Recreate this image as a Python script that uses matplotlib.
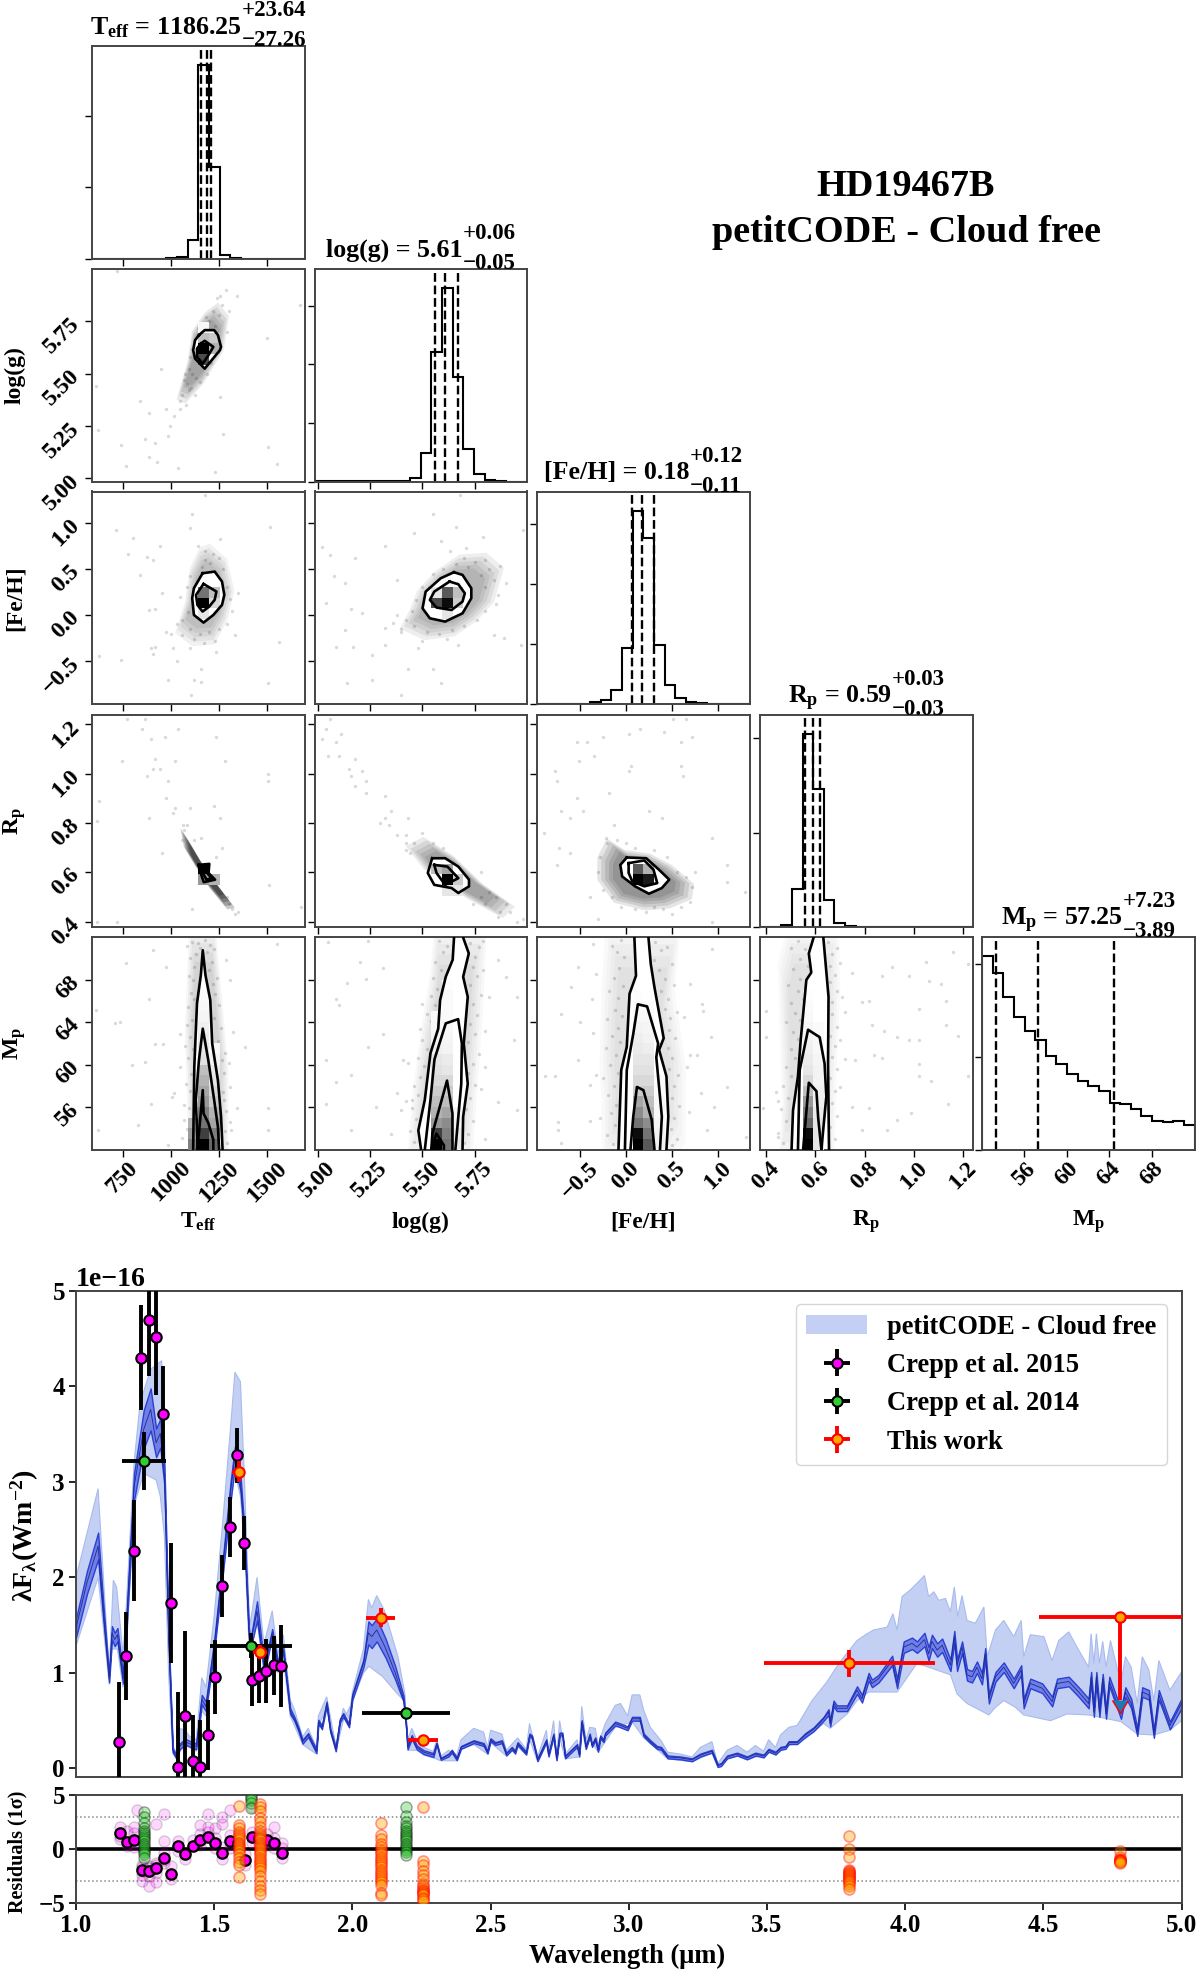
#! /usr/bin/python3
# -*- coding: utf-8 -*-
# Corner plot + spectrum of HD19467B
import numpy as np
import matplotlib
matplotlib.use("Agg")
import matplotlib.pyplot as plt
from matplotlib.patches import Patch

plt.rcParams['font.family'] = ['Liberation Serif', 'DejaVu Serif']
plt.rcParams['font.weight'] = 'bold'
plt.rcParams['mathtext.fontset'] = 'custom'
plt.rcParams['mathtext.rm'] = 'Liberation Serif:bold'
plt.rcParams['mathtext.it'] = 'Liberation Serif:bold'
plt.rcParams['mathtext.bf'] = 'Liberation Serif:bold'
plt.rcParams['mathtext.default'] = 'rm'

W, H = 1200, 1972

# ---------- corner: parameters ----------
param_names = ["T$_{eff}$", "log(g)", "[Fe/H]", "R$_{p}$", "M$_{p}$"]
param_limits = [(590, 1695), (4.985, 6.0), (-0.963, 1.34), (0.376, 1.238), (52.0, 72.05)]
param_ticks = [[750, 1000, 1250, 1500], [5.0, 5.25, 5.5, 5.75], [-0.5, 0.0, 0.5, 1.0],
               [0.4, 0.6, 0.8, 1.0, 1.2], [56, 60, 64, 68]]
param_ticklabels = [["750", "1000", "1250", "1500"], ["5.00", "5.25", "5.50", "5.75"],
                    ["\u22120.5", "0.0", "0.5", "1.0"], ["0.4", "0.6", "0.8", "1.0", "1.2"],
                    ["56", "60", "64", "68"]]
title_main = ["T$_{eff}$ = 1186.25", "log(g) = 5.61", "[Fe/H] = 0.18", "R$_{p}$ = 0.59", "M$_{p}$ = 57.25"]
title_sup = ["+23.64", "+0.06", "+0.12", "+0.03", "+7.23"]
title_sub = ["\u221227.26", "\u22120.05", "\u22120.11", "\u22120.03", "\u22123.89"]
quantiles = [[1158.99, 1186.25, 1209.89], [5.56, 5.61, 5.67], [0.07, 0.18, 0.30],
             [0.56, 0.59, 0.62], [53.36, 57.25, 64.48]]

# histograms, 20 bins each
hist_teff = [0, 0, 0, 0, 0, 0, 0, 0.5, 1, 18, 193, 91, 3, 0.3, 0, 0, 0, 0, 0, 0]
hist_logg = [0.5, 0.5, 0.7, 0.5, 0.5, 0.5, 0.5, 0.6, 1, 3.7, 28.7, 130, 193.7, 105, 32.7, 8, 2, 0.5, 0, 0]
hist_feh = [0, 0, 0, 0, 0.3, 1.7, 4, 14, 56, 193.7, 166.4, 59.6, 19, 5.7, 1.7, 0.7, 0.2, 0, 0, 0]
hist_rp = [0.2, 0.5, 3, 39, 193.3, 139, 28, 5, 2, 1, 0.7, 0.5, 0.5, 0.4, 0.3, 0.3, 0.2, 0.2, 0.2, 0.2]
hist_mp = [192.8, 176.3, 152, 132, 118, 109, 93.7, 85, 75.6, 68.7, 63, 58.4, 46.8, 45.7, 40.7,
           33.4, 28.4, 27.6, 28.4, 24.6]
hists = [hist_teff, hist_logg, hist_feh, hist_rp, hist_mp]
hist_ticks = [[0, 71, 142], [0, 58.8, 117.6, 176.4], [0, 60, 120, 180], [0, 95, 190], [0, 92.5, 185]]

# ---------- corner: 2D panels, (column, first row, darkness per row) ----------
dens_logg_teff = [(10, 11, [.7, 1.0, .25, .03]), (11, 12, [.3, .2])]
dens_feh_teff = [(10, 8, [.1, 1.0, .55]), (11, 9, [.15, .25])]
dens_feh_logg = [(11, 9, [.7, .1]), (12, 8, [.1, .95, .65, .02]), (13, 9, [.2, .25])]
dens_rp_teff = [(10, 4, [.4, 1.0]), (11, 4, [.3])]
dens_rp_logg = [(11, 5, [.25]), (12, 3, [.1, 1.0, .35]), (13, 3, [.1, .2])]
dens_rp_feh = [(9, 4, [1.0, .65]), (10, 4, [.9, .3])]
dens_mp_teff = [(9, 0, [.5, .4, .3]),
                (10, 0, [1.0, .75, .55, .5, .4, .35, .3, .25, .12, .1, .08, .06, .04, .03, .02]),
                (11, 0, [.6, .5, .35, .3, .2, .15, .1, .08, .05, .03])]
dens_mp_logg = [(11, 0, [1.0, .75, .4, .3, .25, .2, .15, .12, .1, .06, .04, .03, .02]),
                (12, 0, [.55, .5, .45, .35, .25, .2, .15, .1, .08, .05, .04, .03, .02, .02, .02, .01]),
                (13, 0, [.1, .08, .05, .04])]
dens_mp_feh = [(9, 0, [1.0, .95, .55, .45, .35, .2, .15, .12, .1, .08, .07, .05, .03, .02, .01]),
               (10, 0, [.65, .55, .45, .3, .25, .2, .15, .12, .1, .07, .05, .04, .03, .02]),
               (11, 0, [.05, .05, .04, .03, .03, .02, .02])]
dens_mp_rp = [(4, 0, [1.0, .95, .6, .5, .4, .25, .15, .1, .08, .06, .05, .04, .03, .02, .01]),
              (5, 0, [.1, .1, .1, .08, .06, .06, .05, .05, .04, .03, .03, .02])]

# contour lines, outer first
cont_logg_teff = [[(1146, 5.684), (1176, 5.708), (1225, 5.708), (1245, 5.684), (1261, 5.628), (1255, 5.612),
                   (1176, 5.524), (1126, 5.572), (1116, 5.612), (1126, 5.66), (1146, 5.684)],
                  [(1156, 5.644), (1176, 5.657), (1221, 5.628), (1195, 5.588), (1166, 5.548), (1136, 5.58),
                   (1136, 5.62), (1156, 5.644)]]
cont_feh_teff = [[(1165, .454), (1228, .472), (1266, .364), (1278, .219), (1266, .111), (1221, .002),
                  (1170, -.081), (1120, .002), (1111, .183), (1120, .292), (1165, .454)],
                 [(1170, .338), (1237, .256), (1228, .166), (1199, .092), (1165, .039), (1138, .111),
                  (1131, .219), (1170, .338)]]
cont_feh_logg = [[(5.651, .465), (5.692, .436), (5.734, .291), (5.734, .183), (5.692, .02), (5.609, -.07),
                  (5.536, -.034), (5.501, .074), (5.516, .255), (5.588, .40), (5.651, .465)],
                 [(5.63, .364), (5.672, .335), (5.703, .237), (5.692, .147), (5.64, .056), (5.568, .082),
                  (5.536, .165), (5.557, .255), (5.63, .364)]]
cont_rp_teff = [[(1144, .630), (1200, .634), (1196, .597), (1230, .57), (1171, .56), (1155, .597), (1144, .63)],
                [(1162, .621), (1189, .623), (1189, .597), (1212, .576), (1185, .57), (1167, .597), (1162, .621)]]
cont_rp_logg = [[(5.547, .657), (5.609, .657), (5.672, .623), (5.723, .57), (5.723, .543), (5.672, .516),
                 (5.64, .536), (5.557, .549), (5.526, .597), (5.547, .657)],
                [(5.557, .63), (5.62, .623), (5.672, .576), (5.609, .549), (5.568, .597), (5.557, .63)]]
cont_rp_feh = [[(.01, .66), (.22, .657), (.36, .61), (.47, .57), (.39, .536), (.25, .513), (.10, .543),
                (-.04, .583), (-.06, .63), (.01, .66)],
               [(.03, .637), (.2, .648), (.30, .61), (.34, .556), (.2, .543), (.07, .563), (.03, .597), (.03, .637)]]
cont_mp_teff = [[(1116, 52), (1122, 59.8), (1136, 65.8), (1156, 68.45), (1166, 70.8), (1180, 68.45),
                 (1205, 66.1), (1215, 62), (1245, 58.5), (1261, 55.1), (1269, 52)],
                [(1140, 52), (1130, 56.7), (1146, 60.4), (1166, 63.4), (1195, 60.4), (1225, 56.7), (1245, 54.1),
                 (1251, 52)],
                [(1136, 52), (1146, 53.5), (1166, 57.6), (1170, 55.4), (1195, 54.5), (1221, 52.9), (1221, 52)]]
cont_mp_logg = [[(5.494, 52), (5.481, 53.8), (5.512, 56.7), (5.539, 61.1), (5.576, 63.4), (5.585, 66.1),
                 (5.612, 68.3), (5.645, 69.9), (5.653, 72.5), (5.686, 72.5), (5.722, 70.5), (5.695, 68.3),
                 (5.717, 66.4), (5.698, 62), (5.717, 58.2), (5.695, 55.1), (5.692, 52)],
                [(5.512, 52), (5.539, 56.7), (5.558, 60.5), (5.612, 63.9), (5.671, 64.3), (5.689, 62),
                 (5.686, 58.2), (5.658, 52)],
                [(5.543, 52), (5.548, 53.5), (5.618, 58.5), (5.644, 55.4), (5.644, 52)],
                [(5.543, 52), (5.567, 53.5), (5.603, 52.4), (5.603, 52)]]
cont_mp_feh = [[(-.08, 52), (-.06, 57), (-.05, 59.5), (.01, 61.7), (.04, 66.7), (.11, 68.4), (.09, 72.5),
                (.24, 72.5), (.27, 69.5), (.31, 67.3), (.41, 62.5), (.36, 61.4), (.44, 58.9), (.46, 55.1), (.44, 52)],
               [(-.01, 52), (.01, 59.5), (.08, 62.9), (.13, 65.7), (.23, 65.5), (.35, 62), (.33, 60.7),
                (.39, 55.1), (.37, 52)],
               [(.05, 52), (.08, 55.1), (.12, 57.9), (.19, 57.6), (.28, 54.8), (.31, 52)]]
cont_mp_rp = [[(.504, 52), (.51, 55.7), (.53, 58.9), (.541, 62.3), (.564, 68), (.584, 68.7), (.574, 70.5),
               (.6, 72.5), (.631, 72.5), (.654, 66.4), (.652, 60.1), (.656, 52)],
              [(.53, 52), (.537, 59.5), (.571, 63.3), (.618, 62.6), (.638, 60.1), (.645, 57), (.625, 52)],
              [(.551, 52), (.574, 58.3), (.605, 57.5), (.612, 55), (.625, 52)]]

# clouds of samples around the contours
halo_logg_teff = [(1235, 5.811), (1285, 5.755), (1261, 5.612), (1166, 5.468), (1086, 5.388), (1046, 5.404),
                  (1096, 5.564), (1116, 5.691), (1176, 5.771)]
halo_feh_teff = [(1199, .707), (1278, .562), (1312, .256), (1278, -.034), (1221, -.251), (1120, -.27),
                 (1041, -.143), (1086, .147), (1108, .472), (1154, .672)]
halo_feh_logg = [(5.672, .599), (5.786, .617), (5.859, .472), (5.817, .147), (5.744, -.034), (5.651, -.179),
                 (5.526, -.215), (5.422, -.106), (5.464, .074), (5.495, .255), (5.568, .436)]
halo_rp_teff = [(1065, .758), (1099, .718), (1155, .644), (1234, .556), (1313, .475), (1279, .469),
                (1200, .543), (1133, .623), (1081, .691)]
halo_rp_logg = [(5.453, .691), (5.526, .724), (5.651, .657), (5.775, .556), (5.91, .475), (5.859, .435),
                (5.713, .502), (5.526, .61)]
halo_rp_feh = [(-.16, .718), (.01, .677), (.25, .664), (.46, .623), (.67, .556), (.65, .502), (.44, .469),
               (.2, .462), (-.09, .489), (-.25, .57), (-.25, .65)]
halo_mp_teff = [(1106, 72), (1225, 72), (1255, 66.1), (1285, 59.8), (1285, 52), (1106, 52), (1086, 62.9), (1096, 67.7)]
halo_mp_logg = [(5.567, 72), (5.786, 72), (5.768, 64.5), (5.74, 56.7), (5.722, 52), (5.448, 52), (5.475, 58.2),
                (5.512, 63.6), (5.548, 68)]
halo_mp_feh = [(-.17, 72), (.55, 72), (.48, 66.4), (.59, 60.1), (.59, 53.8), (.48, 52), (-.21, 52), (-.21, 57),
               (-.23, 60.1), (-.21, 66.4)]
halo_mp_rp = [(.497, 72), (.679, 72), (.685, 66.4), (.672, 60.1), (.665, 52), (.463, 52), (.477, 57), (.47, 62.3),
              (.463, 68.7)]

stray_logg_teff = [(718, 5.99), (609, 5.44), (619, 5.23), (742, 5.16), (947, 5.52), (838, 5.37), (887, 5.31),
                   (977, 5.33), (1046, 5.37), (997, 5.25), (867, 5.19), (917, 5.17), (887, 5.10), (987, 5.2),
                   (768, 5.06), (927, 5.08), (1036, 5.05), (1231, 5.03), (1255, 5.39), (1271, 5.21), (1498, 5.67),
                   (1504, 5.15), (1553, 5.07), (1673, 5.83), (1285, 5.90), (1345, 5.87), (1255, 5.87), (1096, 5.42),
                   (1066, 5.47), (1016, 5.30), (1240, 5.86), (1265, 5.83), (1220, 5.80), (1250, 5.78), (1200, 5.75),
                   (1230, 5.73), (1185, 5.77), (1160, 5.74), (1140, 5.72), (1110, 5.62), (1100, 5.58), (1095, 5.52),
                   (1110, 5.5), (1130, 5.48), (1075, 5.5), (1085, 5.45), (1105, 5.43), (1060, 5.4), (1125, 5.4),
                   (1080, 5.35), (1050, 5.33), (1150, 5.46), (1190, 5.5), (1210, 5.55), (1290, 5.7), (1300, 5.8)]
stray_feh_teff = [(716, .92), (802, .84), (941, .75), (775, .66), (878, .63), (908, .6), (1110, 1.1), (1099, .94),
                  (1516, .95), (840, .44), (953, .24), (885, .06), (919, .07), (975, -.18), (896, -.36), (919, -.34),
                  (626, -.44), (743, -.49), (1031, -.5), (908, -.42), (1155, -.58), (986, -.7), (1122, -.7),
                  (1155, -.72), (1504, -.74), (1106, -.87), (1561, -.29), (1347, .24), (1336, -.22), (1178, 1.3),
                  (1257, .83), (1009, -.36), (1099, -.36), (1234, -.4), (1140, .75), (1180, .7), (1220, .66),
                  (1250, .62), (1175, .6), (1205, .56), (1160, .52), (1270, .5), (1100, .42), (1085, .3), (1050, .2),
                  (1290, .3), (1310, .18), (1320, .05), (1090, .03), (1060, -.05), (1030, -.1), (1100, -.15),
                  (1150, -.2), (1200, -.18), (1250, -.15), (1120, -.26), (1060, -.22), (1170, -.3), (1230, -.28),
                  (1000, -.2), (1290, -.1)]
stray_feh_logg = [(5.02, .74), (5.06, .65), (5.18, .62), (5.32, .75), (5.38, .38), (5.13, .35), (5.08, .42),
                  (5.04, .13), (5.16, .07), (5.21, .02), (5.13, -.16), (5.09, -.34), (5.17, -.34), (5.32, -.32),
                  (5.26, -.43), (5.14, -.74), (5.26, -.7), (5.4, -.87), (5.43, -.58), (5.59, -.73), (5.55, -.58),
                  (5.67, -.32), (5.84, -.21), (5.97, -.32), (5.89, -.25), (5.86, .22), (5.87, .53), (5.79, .85),
                  (5.66, .96), (5.55, 1.10), (5.46, .89), (5.98, .92), (5.68, 1.30), (5.32, -.14), (5.4, -.18),
                  (5.48, -.36), (5.59, .8), (5.63, .69), (5.71, .73), (5.38, 0.0), (5.7, .62), (5.75, .58), (5.8, .6),
                  (5.66, .55), (5.72, .52), (5.82, .5), (5.78, .44), (5.84, .38), (5.8, .3), (5.85, .12), (5.8, .05),
                  (5.76, -.05), (5.7, -.12), (5.64, -.16), (5.58, -.2), (5.52, -.18), (5.46, -.12), (5.42, -.05),
                  (5.45, .05), (5.47, .16), (5.5, .3), (5.55, .45), (5.6, .5), (5.4, -.15), (5.36, -.08), (5.9, .35),
                  (5.62, -.26), (5.5, -.28)]
stray_rp_teff = [(772, 1.22), (863, 1.22), (851, 1.18), (896, 1.14), (968, 1.15), (1038, 1.18), (1234, 1.15),
                 (746, 1.05), (919, 1.06), (1020, 1.05), (1279, 1.05), (908, 1.02), (941, 1.02), (874, .99),
                 (986, .97), (1504, 1.0), (1504, .97), (626, .89), (975, .90), (1223, .87), (615, .81), (885, .82),
                 (1020, .86), (1009, .84), (1099, .86), (1257, .82), (1065, .79), (1155, .74), (953, .68),
                 (1234, .66), (1268, .70), (1511, .55), (1110, .45), (1347, .44), (1678, .46), (615, .40), (721, .40),
                 (1070, .77), (1085, .79), (1120, .73), (1300, .47), (1320, .45), (1335, .43), (1290, .5), (1060, .73)]
stray_rp_logg = [(5.04, 1.18), (5.11, 1.16), (5.02, 1.14), (5.09, 1.13), (5.06, 1.22), (5.05, 1.07), (5.10, 1.07),
                 (5.18, 1.06), (5.15, 1.02), (5.21, 1.01), (5.16, .99), (5.18, .95), (5.23, .97), (5.23, .92),
                 (5.32, .91), (5.35, .85), (5.32, .82), (5.34, .79), (5.38, .75), (5.42, .75), (5.43, .82),
                 (5.3, .80), (5.42, .72), (5.98, .41), (5.95, .4), (5.87, .44), (5.46, .72), (5.5, .76), (5.44, .68),
                 (5.42, .69), (5.55, .72), (5.6, .7), (5.78, .6), (5.82, .52), (5.85, .5), (5.9, .47), (5.78, .5),
                 (5.92, .44), (5.74, .47), (5.8, .47), (5.86, .42)]
stray_rp_feh = [(-.53, 1.13), (-.42, 1.13), (-.25, 1.15), (.03, 1.16), (.15, 1.18), (.41, 1.17), (.6, 1.13),
                (.72, 1.15), (.51, 1.22), (.65, 1.22), (-.51, 1.05), (-.35, 1.07), (.06, 1.03), (.03, 1.01),
                (-.77, 1.01), (-.75, .97), (.62, .99), (.6, 1.03), (-.18, .92), (-.53, .9), (-.46, .85), (.39, .82),
                (-.7, .85), (-.6, .82), (-.89, .76), (-.13, .79), (.25, .85), (-.72, .7), (-.6, .68), (-.75, .63),
                (1.1, .63), (.93, .74), (1.1, .56), (1.29, .52), (.93, .4), (-.3, .41), (.22, .44), (-.39, .5),
                (-.2, .72), (-.1, .73), (0, .72), (.1, .7), (.3, .69), (.45, .66), (.55, .6), (.65, .58), (.72, .54),
                (.7, .48), (.6, .46), (.5, .43), (.3, .46), (.1, .45), (-.05, .46), (-.15, .5), (-.25, .53),
                (-.3, .6), (-.28, .66), (-.22, .74), (.75, .6), (.4, .45)]
stray_mp_teff = [(768, 69.6), (907, 70.8), (977, 69.2), (887, 66.2), (957, 62), (868, 60.3), (798, 60), (609, 65.2),
                 (708, 63.9), (738, 64), (917, 62), (1007, 57), (897, 56.3), (619, 53.8), (828, 54.3), (987, 52.4),
                 (1344, 55.9), (1504, 55.9), (1504, 53.8), (1553, 71.4), (1384, 61.7), (1325, 63.1), (1305, 68),
                 (1285, 69.9), (1046, 59.8), (1017, 57.3), (1066, 54.8), (1046, 62.9), (1315, 53.8), (1305, 57.9),
                 (1275, 56.7), (1085, 71.2), (1100, 70.1), (1112, 71.6), (1120, 69.2), (1095, 68.4), (1130, 70.4),
                 (1140, 71.5), (1205, 71.3), (1190, 70.6), (1215, 69.7), (1225, 70.9), (1240, 68.2), (1200, 68.9),
                 (1178, 71.8), (1150, 71.0), (1105, 66.8), (1120, 66.2), (1090, 65.4), (1110, 64.2), (1098, 62.6),
                 (1115, 61.5), (1085, 63.7), (1232, 66.7), (1250, 65.6), (1225, 64.4), (1260, 63.5), (1245, 62.2),
                 (1280, 61.1), (1238, 60.9), (1090, 60.6), (1105, 59.1), (1080, 58.2), (1100, 57.5), (1095, 55.9),
                 (1108, 54.7), (1085, 53.9), (1098, 52.8), (1275, 59.2), (1270, 57.4), (1285, 55.6), (1280, 53.7),
                 (1290, 52.6), (1265, 60.4), (1075, 61.8), (1068, 56.2), (1300, 60.2), (1310, 54.6), (1060, 53.1),
                 (1220, 67.6), (1115, 68.0)]
stray_mp_logg = [(5.05, 71.6), (5.2, 69.7), (5.31, 69.1), (5.23, 68.1), (5.14, 67.7), (5.09, 66.2), (5.1, 65.6),
                 (5.04, 60.4), (5.04, 56.3), (5.09, 58.4), (5.16, 59), (5.16, 53.8), (5.24, 61.7), (5.31, 62.9),
                 (5.41, 60.4), (5.38, 57.3), (5.45, 56.7), (5.4, 55.7), (5.28, 56), (5.35, 53.5), (5.8, 53),
                 (5.86, 56.5), (5.95, 55.7), (5.9, 68.3), (5.86, 69.9), (5.94, 62.3), (5.8, 59.8), (5.82, 66.4),
                 (5.79, 71.7), (5.49, 63.4), (5.24, 71.7), (5.95, 66.4), (5.58, 71.7), (5.6, 70.6), (5.62, 71.2),
                 (5.56, 69.7), (5.59, 68.9), (5.55, 68.2), (5.57, 67.1), (5.54, 66.5), (5.56, 65.6), (5.52, 64.8),
                 (5.54, 64.1), (5.55, 63.0), (5.5, 62.3), (5.52, 61.5), (5.48, 60.6), (5.51, 59.9), (5.49, 58.8),
                 (5.46, 58.0), (5.48, 57.1), (5.45, 55.9), (5.47, 54.9), (5.44, 53.7), (5.46, 52.7), (5.42, 56.6),
                 (5.43, 60.2), (5.5, 65.7), (5.73, 71.5), (5.75, 70.2), (5.77, 71.1), (5.74, 69.2), (5.76, 68.4),
                 (5.73, 67.5), (5.78, 66.6), (5.74, 65.7), (5.76, 64.7), (5.73, 63.8), (5.75, 62.9), (5.72, 62.1),
                 (5.77, 61), (5.74, 60.1), (5.72, 59.2), (5.75, 58.1), (5.73, 56.9), (5.71, 55.8), (5.74, 54.7),
                 (5.72, 53.5), (5.7, 52.6), (5.79, 68.9), (5.8, 63.2), (5.78, 57.7)]
stray_mp_feh = [(-.52, 69.2), (-.59, 67.3), (-.36, 71.4), (-.37, 66.2), (-.7, 64.8), (-.5, 64), (-.32, 68.6),
                (-.36, 63), (-.77, 58.9), (-.88, 58.9), (-.52, 60.4), (-.32, 59), (-.39, 58.1), (-.74, 54.6),
                (-.39, 54.7), (-.74, 53.8), (-.7, 52.6), (.84, 65.1), (.93, 70.9), (.92, 62.6), (.83, 65.7),
                (.7, 60.9), (.77, 60.9), (.66, 59.8), (.81, 57.3), (1.1, 57.9), (.95, 56), (.68, 55.5), (.88, 53.8),
                (.63, 64.5), (.7, 67.6), (1.3, 53.2), (-.05, 71.8), (-.1, 70.6), (-.02, 70.2), (-.15, 71.2),
                (-.07, 69.1), (-.13, 68.2), (-.03, 67.4), (-.18, 67), (-.08, 66.3), (-.12, 65.2), (-.04, 64.6),
                (-.2, 64.3), (-.09, 63.5), (-.15, 62.7), (-.06, 62.1), (-.22, 61.6), (-.11, 60.9), (-.17, 60),
                (-.09, 59.2), (-.25, 58.7), (-.13, 58), (-.19, 57.1), (-.11, 56.2), (-.16, 55.4), (-.28, 55),
                (-.12, 54.3), (-.2, 53.4), (-.14, 52.5), (.32, 71.6), (.38, 70.8), (.3, 69.9), (.45, 71.1),
                (.36, 68.9), (.42, 68.1), (.5, 69.5), (.38, 67), (.46, 66.2), (.52, 67.5), (.42, 65.3), (.48, 64.4),
                (.55, 65), (.47, 63.3), (.53, 62.5), (.46, 61.6), (.5, 60.6), (.47, 59.6), (.56, 59), (.52, 58),
                (.5, 56.9), (.58, 56.1), (.52, 55), (.49, 53.9), (.55, 53), (.5, 52.4)]
stray_mp_rp = [(.75, 68.7), (.87, 68.4), (.91, 69.2), (.98, 68.4), (1.05, 69.7), (1.06, 67.9), (1.11, 67.6),
               (1.22, 69.5), (1.16, 70.6), (.82, 66), (.79, 65.9), (1.13, 66), (1.02, 65.3), (.83, 63.7), (.88, 63.2),
               (.93, 62.6), (.98, 62.3), (1.02, 62.3), (1.13, 63.7), (1.18, 62.7), (.76, 60.4), (.84, 60.9),
               (.87, 60.6), (1.02, 60.1), (1.02, 58.9), (1.07, 58.5), (1.22, 58.9), (.75, 56), (.82, 55.9),
               (.93, 54.8), (.99, 55.4), (1.14, 56.3), (.89, 53.8), (.79, 53.8), (.45, 56.6), (.39, 55.9), (.4, 65.1),
               (.4, 62.6), (.45, 53.2), (.53, 71.7), (.56, 70.9), (.5, 71), (.54, 70), (.57, 69.3), (.51, 69),
               (.54, 68.1), (.49, 67.5), (.53, 67), (.55, 66.2), (.5, 65.8), (.52, 64.9), (.54, 64.2), (.48, 64),
               (.51, 63.1), (.53, 62.4), (.5, 61.5), (.52, 60.6), (.48, 59.8), (.5, 58.9), (.47, 58), (.49, 56.9),
               (.46, 55.8), (.48, 54.7), (.45, 53.6), (.47, 52.6), (.44, 57.4), (.65, 71.6), (.67, 70.4), (.69, 71),
               (.66, 69.3), (.68, 68.5), (.7, 69.6), (.66, 67.8), (.69, 67), (.67, 65.9), (.71, 66.4), (.67, 64.8),
               (.69, 63.6), (.66, 62.7), (.68, 61.8), (.7, 62.3), (.67, 60.7), (.69, 59.6), (.66, 58.7), (.68, 57.5),
               (.67, 56.4), (.69, 55.2), (.66, 54.1), (.68, 53), (.7, 57.9), (.72, 60.5), (.72, 65)]

# (row, col): density, contours, halo, strays, halo opacity
panels = {(1, 0): (dens_logg_teff, cont_logg_teff, halo_logg_teff, stray_logg_teff, .2),
          (2, 0): (dens_feh_teff, cont_feh_teff, halo_feh_teff, stray_feh_teff, .13),
          (2, 1): (dens_feh_logg, cont_feh_logg, halo_feh_logg, stray_feh_logg, .16),
          (3, 0): (dens_rp_teff, cont_rp_teff, halo_rp_teff, stray_rp_teff, .5),
          (3, 1): (dens_rp_logg, cont_rp_logg, halo_rp_logg, stray_rp_logg, .2),
          (3, 2): (dens_rp_feh, cont_rp_feh, halo_rp_feh, stray_rp_feh, .24),
          (4, 0): (dens_mp_teff, cont_mp_teff, halo_mp_teff, stray_mp_teff, .08),
          (4, 1): (dens_mp_logg, cont_mp_logg, halo_mp_logg, stray_mp_logg, .07),
          (4, 2): (dens_mp_feh, cont_mp_feh, halo_mp_feh, stray_mp_feh, .06),
          (4, 3): (dens_mp_rp, cont_mp_rp, halo_mp_rp, stray_mp_rp, .06)}

# ---------- spectrum (1e-16 W m-2) ----------
model_wl = [1.00, 1.04, 1.08, 1.10, 1.12, 1.13, 1.14, 1.15, 1.17, 1.18,
            1.21, 1.245, 1.27, 1.29, 1.305, 1.32, 1.335, 1.35, 1.365, 1.375,
            1.395, 1.41, 1.435, 1.455, 1.47, 1.50, 1.53, 1.56, 1.575, 1.595,
            1.61, 1.625, 1.63, 1.655, 1.68, 1.69, 1.71, 1.73, 1.75, 1.775,
            1.79, 1.805, 1.82, 1.84, 1.87, 1.877, 1.89, 1.907, 1.92, 1.94,
            1.955, 1.967, 1.988, 2.0, 2.04, 2.058, 2.07, 2.088, 2.12, 2.155,
            2.185, 2.195, 2.2, 2.215, 2.233, 2.258, 2.293, 2.305, 2.32, 2.348,
            2.36, 2.378, 2.393, 2.439, 2.475, 2.489, 2.5, 2.517, 2.541, 2.557,
            2.577, 2.589, 2.598, 2.629, 2.641, 2.65, 2.67, 2.702, 2.71, 2.728,
            2.739, 2.75, 2.76, 2.77, 2.813, 2.821, 2.83, 2.845, 2.859, 2.867,
            2.879, 2.889, 2.897, 2.909, 2.915, 2.951, 2.97, 2.996, 3.012, 3.04,
            3.054, 3.078, 3.102, 3.117, 3.141, 3.187, 3.229, 3.259, 3.301, 3.322,
            3.334, 3.356, 3.392, 3.428, 3.458, 3.488, 3.506, 3.531, 3.549, 3.567,
            3.579, 3.609, 3.639, 3.669, 3.705, 3.723, 3.729, 3.741, 3.753, 3.79,
            3.826, 3.844, 3.868, 3.88, 3.904, 3.953, 3.971, 3.995, 4.025, 4.043,
            4.07, 4.085, 4.097, 4.116, 4.134, 4.164, 4.178, 4.188, 4.206, 4.224,
            4.242, 4.26, 4.278, 4.29, 4.303, 4.327, 4.357, 4.393, 4.42, 4.429,
            4.453, 4.496, 4.532, 4.55, 4.592, 4.628, 4.664, 4.673, 4.683, 4.692,
            4.703, 4.715, 4.727, 4.739, 4.781, 4.797, 4.818, 4.84, 4.858, 4.882,
            4.9, 4.918, 4.958, 5.0]
model_flux = [1.47, 1.95, 2.33, 1.60, .94, 1.42, 1.35, 1.40, .94, 1.38,
              2.95, 3.55, 3.76, 3.41, 3.51, 3.06, 1.38, .19, .115, .23,
              .28, .26, .23, .72, .65, 1.28, 2.08, 2.92, 3.27, 2.99,
              2.43, 1.45, 1.28, 1.65, 1.07, 1.15, 1.42, 1.10, 1.24, .60,
              .52, .41, .28, .35, .18, .49, .43, .68, .40, .20,
              .50, .56, .45, .75, 1.10, 1.42, 1.38, 1.45, 1.26, 1.0,
              .73, .43, .22, .33, .22, .17, .14, .26, .10, .14,
              .18, .10, .22, .28, .25, .17, .30, .26, .28, .15,
              .21, .17, .26, .16, .35, .33, .09, .29, .14, .35,
              .10, .36, .36, .12, .24, .14, .49, .22, .35, .24,
              .31, .19, .33, .29, .36, .47, .45, .42, .52, .52,
              .35, .28, .22, .21, .12, .11, .09, .14, .18, .03,
              .04, .12, .15, .11, .15, .13, .19, .16, .21, .22,
              .27, .27, .35, .41, .52, .59, .47, .68, .63, .63,
              .82, .73, .96, .89, .94, 1.13, .89, 1.27, 1.31, 1.27,
              1.35, 1.20, 1.33, 1.24, 1.29, 1.08, 1.38, 1.08, 1.27, .98,
              .96, 1.06, .94, 1.20, .73, .96, 1.06, .89, 1.03, .68,
              .89, .84, .70, .89, .91, .80, .68, .96, .59, .96,
              .59, .94, .57, .91, .57, .80, .68, .38, .80, .77,
              .36, .77, .45, .68]
model_err = [.10, .12, .14, .08, .04, .07, .07, .07, .05, .07,
             .14, .20, .22, .15, .15, .10, .05, .02, .02, .03,
             .03, .03, .03, .05, .05, .06, .08, .10, .10, .08,
             .06, .05, .05, .10, .04, .04, .04, .03, .03, .03,
             .02, .02, .02, .02, .02, .02, .02, .02, .02, .02,
             .02, .02, .02, .03, .04, .12, .12, .12, .10, .07,
             .03, .02, .02, .02, .02, .02, .02, .01, .01, .015,
             .015, .015, .015, .015, .015, .015, .015, .015, .015, .015,
             .015, .015, .015, .015, .015, .015, .015, .015, .015, .015,
             .015, .015, .015, .015, .015, .015, .015, .015, .015, .015,
             .015, .015, .015, .015, .015, .02, .02, .02, .02, .02,
             .015, .015, .015, .015, .015, .015, .015, .015, .015, .015,
             .015, .015, .015, .015, .015, .015, .015, .015, .015, .015,
             .015, .015, .02, .02, .02, .03, .03, .03, .03, .03,
             .04, .04, .04, .04, .04, .05, .05, .06, .06, .06,
             .07, .07, .07, .07, .07, .06, .06, .06, .06, .06,
             .06, .06, .06, .06, .05, .05, .05, .05, .05, .05,
             .05, .05, .05, .05, .05, .05, .05, .05, .05, .05,
             .05, .05, .05, .05, .05, .05, .05, .04, .05, .05,
             .04, .05, .04, .05]

upper_wl = [1.0, 1.08, 1.12, 1.135, 1.147, 1.17, 1.18, 1.21, 1.232, 1.27, 1.31, 1.32, 1.335, 1.35, 1.365, 1.375,
            1.395, 1.41, 1.435, 1.455, 1.47, 1.50, 1.53, 1.56, 1.575, 1.595, 1.61, 1.625, 1.63, 1.655, 1.68, 1.71,
            1.73, 1.75, 1.775, 1.79, 1.82, 1.84, 1.87, 1.877, 1.907, 1.94, 1.967, 1.988, 2.0, 2.04, 2.058, 2.07,
            2.088, 2.115, 2.165, 2.19, 2.2, 2.215, 2.233, 2.258, 2.293, 2.305, 2.32, 2.348, 2.378, 2.393, 2.439,
            2.475, 2.489, 2.5, 2.541, 2.557, 2.598, 2.629, 2.641, 2.67, 2.702, 2.71, 2.728, 2.739, 2.75, 2.77,
            2.813, 2.821, 2.83, 2.845, 2.859, 2.879, 2.889, 2.915, 2.951, 2.97, 2.996, 3.012, 3.04, 3.054, 3.078,
            3.117, 3.141, 3.187, 3.229, 3.259, 3.301, 3.322, 3.356, 3.392, 3.428, 3.458, 3.488, 3.506, 3.531,
            3.549, 3.579, 3.609, 3.62, 3.663, 3.718, 3.76, 3.826, 3.862, 3.886, 3.935, 3.956, 3.971, 3.989, 4.019,
            4.043, 4.07, 4.085, 4.104, 4.122, 4.146, 4.164, 4.178, 4.19, 4.206, 4.224, 4.254, 4.285, 4.297, 4.327,
            4.357, 4.393, 4.42, 4.429, 4.453, 4.502, 4.532, 4.556, 4.592, 4.622, 4.664, 4.673, 4.683, 4.692, 4.703,
            4.715, 4.727, 4.743, 4.781, 4.797, 4.818, 4.84, 4.858, 4.882, 4.9, 4.918, 4.958, 5.0]
upper_flux = [2.0, 2.93, 1.0, 1.97, 1.9, 1.2, 1.6, 3.2, 3.83, 4.18, 4.27, 3.48, 1.73, .24, .15, .42,
              .40, .34, .30, .95, .85, 1.6, 2.55, 3.6, 4.15, 4.05, 3.0, 1.75, 1.5, 2.0, 1.3, 1.65,
              1.2, 1.4, .72, .62, .33, .42, .22, .55, .75, .24, .63, .52, .8, 1.25, 1.77, 1.68,
              1.81, 1.66, 1.17, .78, .3, .42, .3, .22, .18, .3, .13, .19, .14, .3, .42,
              .38, .22, .4, .36, .19, .32, .2, .47, .12, .4, .18, .5, .13, .5, .15,
              .3, .18, .65, .3, .43, .42, .25, .47, .66, .68, .55, .77, .77, .61, .43,
              .29, .17, .15, .12, .22, .28, .05, .19, .24, .17, .24, .18, .30, .22,
              .35, .43, .45, .5, .71, .91, 1.10, 1.34, 1.41, 1.45, 1.48, 1.62, 1.45, 1.80, 1.87,
              1.94, 2.02, 1.8, 1.85, 1.76, 1.78, 1.64, 1.90, 1.59, 1.81, 1.55, 1.52, 1.69, 1.17, 1.45,
              1.55, 1.38, 1.55, 1.17, 1.40, 1.38, 1.13, 1.34, 1.43, 1.27, 1.06, 1.41, 1.10, 1.41, 1.10,
              1.33, 1.06, 1.34, .89, 1.17, 1.06, .68, 1.17, 1.03, .71, 1.13, .82, 1.01]
lower_wl = [1.0, 1.08, 1.12, 1.13, 1.15, 1.17, 1.18, 1.21, 1.245, 1.29, 1.305, 1.32, 1.335, 1.35, 1.365, 1.375,
            1.395, 1.41, 1.435, 1.455, 1.47, 1.5, 1.53, 1.56, 1.575, 1.595, 1.61, 1.625, 1.63, 1.655, 1.68, 1.71,
            1.73, 1.75, 1.775, 1.82, 1.87, 1.877, 1.907, 1.94, 1.967, 2.0, 2.04, 2.06, 2.11, 2.16, 2.19, 2.2,
            2.233, 2.258, 2.293, 2.32, 2.378, 2.393, 2.439, 2.489, 2.5, 2.557, 2.598, 2.629, 2.641, 2.67, 2.702,
            2.71, 2.728, 2.739, 2.75, 2.77, 2.821, 2.83, 2.845, 2.859, 2.889, 2.951, 3.012, 3.054, 3.102, 3.141,
            3.229, 3.301, 3.322, 3.356, 3.392, 3.428, 3.506, 3.579, 3.639, 3.705, 3.729, 3.79, 3.826, 3.868, 3.971,
            4.043, 4.085, 4.164, 4.188, 4.224, 4.303, 4.327, 4.357, 4.399, 4.429, 4.526, 4.586, 4.664, 4.781, 4.84,
            4.9, 4.958, 5.0]
lower_flux = [1.28, 2.0, .88, 1.25, 1.25, .85, 1.1, 2.75, 3.09, 3.02, 2.85, 2.43, 1.0, .16, .09, .18,
              .24, .22, .18, .6, .55, 1.2, 1.95, 2.75, 3.1, 2.85, 2.3, 1.35, 1.2, 1.55, 1.0, 1.35,
              1.0, 1.15, .55, .25, .15, .45, .62, .17, .5, .7, 1.0, 1.07, .96, .79, .70, .19,
              .19, .14, .11, .08, .08, .2, .25, .15, .27, .13, .23, .14, .31, .07, .26,
              .12, .31, .08, .32, .10, .12, .43, .19, .31, .17, .43, .49, .32, .2, .10,
              .07, .16, .01, .10, .13, .09, .16, .24, .31, .47, .42, .57, .71, .80, .80,
              1.1, 1.06, .98, .78, .68, .56, .64, .71, .64, .56, .50, .57, .56, .49, .36,
              .35, .40, .50]

crepp15_wl = [1.155, 1.18, 1.209, 1.235, 1.263, 1.29, 1.316, 1.343, 1.369, 1.396, 1.422, 1.449, 1.477,
              1.503, 1.53, 1.556, 1.583, 1.609, 1.636, 1.662, 1.689, 1.716, 1.743]
crepp15_flux = [.28, 1.18, 2.28, 4.30, 4.70, 4.52, 3.71, 1.73, .01, .55, .08, .01, .35,
                .96, 1.91, 2.53, 3.28, 2.36, .93, .97, 1.02, 1.08, 1.07]
crepp15_err = [.63, .46, .53, .55, .59, .61, .5, .63, .79, .89, .48, .5, .37,
               .385, .32, .315, .29, .285, .28, .29, .34, .31, .43]
crepp14_wl = [1.246, 1.632, 2.195]
crepp14_flux = [3.22, 1.286, .577]
crepp14_xerr = [.081, .148, .159]
crepp14_yerr = [.305, .13, .02]
work_wl = [1.588, 1.666, 2.103, 2.255, 3.798]
work_flux = [3.105, 1.22, 1.58, .30, 1.10]
work_xerr = [.025, .025, .053, .055, .31]
work_yerr = [.11, .07, .10, .01, .143]
limit_wl = [4.779]
limit_flux = [1.588]
limit_xerr = [.296]
limit_yerr = [.87]

# ---------- residuals ----------
res15_wl = [1.158, 1.183, 1.21, 1.24, 1.263, 1.29, 1.319, 1.342, 1.37, 1.396, 1.422, 1.449, 1.478, 1.504,
            1.529, 1.557, 1.587, 1.612, 1.636, 1.663, 1.69, 1.717, 1.745]
res15 = [1.5, .65, .8, -1.9, -2.05, -1.75, -.85, -2.3, .25, -.45, .25, .85, 1.1, .55,
         -.35, .7, .55, -1.0, 1.1, 1.0, .85, .55, -.35]
pale15_wl = [1.158, 1.158, 1.158, 1.183, 1.183, 1.21, 1.21, 1.21, 1.22, 1.24, 1.24, 1.24, 1.263, 1.263, 1.263,
             1.29, 1.29, 1.29, 1.29, 1.319, 1.319, 1.319, 1.319, 1.342, 1.342, 1.37, 1.37, 1.396, 1.422, 1.449,
             1.449, 1.449, 1.478, 1.478, 1.478, 1.504, 1.504, 1.504, 1.529, 1.529, 1.529, 1.529, 1.557, 1.557,
             1.557, 1.612, 1.612, 1.636, 1.636, 1.636, 1.663, 1.663, 1.69, 1.69, 1.717, 1.717, 1.717, 1.745,
             1.745, 1.745, 1.24, 1.263, 1.29, 1.24, 1.263, 1.29, 1.319]
pale15 = [2.0, 1.2, .9, 1.7, .3, 1.5, 2.0, .2, 3.6, -1.5, -2.4, -3, -1.6, -2.5, -3.4,
          -1.3, -2.2, -3.1, 2.3, -.4, -1.3, .7, 3.2, -2.8, -1.6, .7, -.2, -.9, .8, 1.4,
          2.2, .4, 1.6, 3.2, 2.0, 1.0, 1.9, .1, -.9, .2, 2.3, 3.0, 1.3, .1,
          3.6, -.5, -1.5, 1.6, .6, 3.9, 1.5, .5, 1.4, .4, 1.0, 2.0, .1, .1,
          -.8, .6, -2, -2, -1.8, -1.7, -1.8, -1.5, -1.0]
res14_wl = [1.246, 1.632, 2.195]
res14 = [[3.4, 3.0, 2.4, 1.9, 1.7, 1.5, 1.3, 1.1, .9, .7, .5, .3, .1, -.1, -.3, -.5, -.8],
         [4.9, 4.7, 4.5, 4.3, 3.8],
         [3.9, 3.1, 2.5, 2.1, 1.9, 1.7, 1.5, 1.3, 1.1, .9, .7, .5, .3, .1, -.1, -.3, -.6]]
res_work_wl = [1.588, 1.666, 2.103, 2.255, 3.798, 4.779]
res_work = [[3.95, 2.2, 1.9, 1.6, 1.4, 1.2, 1.0, .8, .6, .4, .2, 0, -.2, -.5, -.8, -1.2, -1.5, -2.6],
            [4.2, 3.9, 3.5, 2.9, 2.5, 2.0, 1.7, 1.4, 1.2, 1.0, .8, .6, .4, .2, 0, -.2, -.4, -.6, -.8, -1.0, -1.2,
             -1.4, -1.6, -1.8, -2.0, -2.5, -3, -3.4, -3.8, -4.2],
            [2.4, 1.3, .9, .5, .2, -.1, -.3, -.5, -.7, -.9, -1.1, -1.3, -1.5, -1.7, -1.9, -2.1, -2.3, -2.5, -2.7,
             -2.9, -3.1, -3.3, -4.1, -4.3],
            [3.9, -1.1, -1.5, -2, -2.4, -2.8, -3.2, -3.4, -3.6, -3.8, -3.9, -4.0, -4.1, -4.2, -4.3, -4.5, -4.6, -4.8],
            [1.2, 0, -.75, -1.9, -2.0, -2.1, -2.2, -2.3, -2.4, -2.5, -2.6, -2.7, -2.8, -2.9, -3.0, -3.1, -3.2, -3.4, -3.7],
            [-.15, -.7, -.9, -1.0, -1.05, -1.1, -1.1, -1.15, -1.2, -1.3]]

# ---------- drawing ----------
col_x = [92, 314.5, 537, 760, 982]
row_y = [46, 269, 491.5, 715, 937]
PANEL = 212.5
EDGE = '#444444'


def pix_axes(x0, y0, x1, y1):
    return fig.add_axes([x0 / W, 1 - y1 / H, (x1 - x0) / W, (y1 - y0) / H])


def style(ax, lw=1.4):
    for s in ax.spines.values():
        s.set_linewidth(lw)
        s.set_edgecolor(EDGE)


def draw_density(ax, blocks, xlim, ylim):
    grid = np.zeros((20, 20))
    for col, first, values in blocks:
        for k, v in enumerate(values):
            grid[first + k, col] = v
    xe = np.linspace(xlim[0], xlim[1], 21)
    ye = np.linspace(ylim[0], ylim[1], 21)
    ax.pcolormesh(xe, ye, np.ma.masked_equal(grid, 0), cmap='gray_r', vmin=0, vmax=1, zorder=3)


def draw_halo(ax, halo, opacity):
    # nested copies of the outline give the cloud a soft edge
    pts = np.array(halo, dtype=float)
    centre = pts.mean(axis=0)
    for s in (1.14, 1.04, 0.94, 0.84, 0.74):
        p = centre + s * (pts - centre)
        ax.fill(p[:, 0], p[:, 1], color='k', alpha=opacity * 0.42, lw=0, zorder=1)


def draw_title(centre, top, main, sup, sub):
    renderer = fig.canvas.get_renderer()
    t = fig.text(0, 1 - (top - 12) / H, main, ha='left', va='baseline', fontsize=18.7)
    s = fig.text(0, 1 - (top - 30) / H, sup, ha='left', va='baseline', fontsize=16.5)
    b = fig.text(0, 1 - top / H, sub, ha='left', va='baseline', fontsize=16.5)
    wm = t.get_window_extent(renderer).width
    ws = max(s.get_window_extent(renderer).width, b.get_window_extent(renderer).width)
    left = centre - (wm + ws) / 2
    t.set_x(left / W)
    s.set_x((left + wm) / W)
    b.set_x((left + wm) / W)


fig = plt.figure(figsize=(W / 100, H / 100), dpi=100)

for i in range(5):
    # histogram on the diagonal
    ax = pix_axes(col_x[i], row_y[i], col_x[i] + PANEL, row_y[i] + PANEL)
    edges = np.linspace(param_limits[i][0], param_limits[i][1], 21)
    ax.stairs(hists[i], edges, color='k', lw=1.5)
    for q in quantiles[i]:
        ax.axvline(q, color='k', ls='--', lw=1.7)
    ax.set_xlim(param_limits[i])
    ax.set_ylim(0, 1.1 * max(hists[i]))
    ax.set_yticks(hist_ticks[i])
    ax.set_yticklabels([])
    ax.set_xticks(param_ticks[i])
    if i == 4:
        ax.set_xticklabels(param_ticklabels[i], rotation=45, fontsize=17)
        fig.text((col_x[i] + PANEL / 2) / W, 1 - 1222 / H, param_names[i], ha='center', va='center', fontsize=17)
    else:
        ax.set_xticklabels([])
    ax.tick_params(length=5, width=1, pad=1)
    style(ax)
    draw_title(col_x[i] + PANEL / 2, row_y[i], title_main[i], title_sup[i], title_sub[i])

for (r, c), (blocks, contours, halo, strays, opacity) in panels.items():
    ax = pix_axes(col_x[c], row_y[r], col_x[c] + PANEL, row_y[r] + PANEL)
    draw_halo(ax, halo, opacity)
    sx, sy = zip(*strays)
    ax.plot(sx, sy, 'o', ms=2.4, color='k', alpha=0.15, mew=0, zorder=1)
    ox, oy = zip(*contours[0])
    ax.fill(ox, oy, color='white', lw=0, zorder=2)
    draw_density(ax, blocks, param_limits[c], param_limits[r])
    for line in contours:
        lx, ly = zip(*line)
        ax.plot(lx, ly, color='k', lw=1.9, zorder=4)
    ax.set_xlim(param_limits[c])
    ax.set_ylim(param_limits[r])
    ax.set_xticks(param_ticks[c])
    ax.set_yticks(param_ticks[r])
    if r == 4:
        ax.set_xticklabels(param_ticklabels[c], rotation=45, fontsize=17)
        fig.text((col_x[c] + PANEL / 2) / W, 1 - 1222 / H, param_names[c], ha='center', va='center', fontsize=17)
    else:
        ax.set_xticklabels([])
    if c == 0:
        ax.set_yticklabels(param_ticklabels[r], rotation=45, fontsize=17)
        fig.text(15 / W, 1 - (row_y[r] + PANEL / 2) / H, param_names[r], rotation=90, ha='center', va='center',
                 fontsize=17)
    else:
        ax.set_yticklabels([])
    ax.tick_params(length=5, width=1, pad=1)
    style(ax)

fig.text(906 / W, 1 - 186.5 / H, "HD19467B", ha='center', va='center', fontsize=27.5)
fig.text(906 / W, 1 - 232.5 / H, "petitCODE - Cloud free", ha='center', va='center', fontsize=27.5)

# spectrum
ax = pix_axes(76, 1291, 1181.5, 1777)
band_x = list(upper_wl) + list(lower_wl)[::-1]
band_y = list(upper_flux) + list(lower_flux)[::-1]
ax.fill(band_x, band_y, facecolor='#c3d0f3', edgecolor='#a9bbee', lw=0.8, zorder=1)
med = np.array(model_flux)
err = np.array(model_err)
ax.fill_between(model_wl, med - err, med + err, facecolor='#6f7fe6', edgecolor='#2a3fd6', lw=1.0, zorder=2)
ax.plot(model_wl, model_flux, color='#1f2a8f', lw=0.6, zorder=3)
ax.errorbar(crepp15_wl, crepp15_flux, yerr=crepp15_err, xerr=0.002, fmt='o', mfc='magenta', mec='k', mew=1.5, ms=7.5,
            ecolor='k', elinewidth=2.8, zorder=5, label="Crepp et al. 2015")
ax.errorbar(crepp14_wl, crepp14_flux, xerr=crepp14_xerr, yerr=crepp14_yerr, fmt='o', mfc='limegreen', mec='k', mew=1.5,
            ms=7.5, ecolor='k', elinewidth=2.8, zorder=6, label="Crepp et al. 2014")
ax.errorbar(work_wl, work_flux, xerr=work_xerr, yerr=work_yerr, fmt='o', mfc='orange', mec='red', mew=1.5, ms=7.5,
            ecolor='red', elinewidth=2.8, zorder=7, label="This work")
ax.errorbar(limit_wl, limit_flux, yerr=limit_yerr, uplims=True, fmt='none', ecolor='red', elinewidth=2.8, capsize=6,
            zorder=7)
ax.errorbar(limit_wl, limit_flux, xerr=limit_xerr, fmt='o', mfc='orange', mec='red', mew=1.5, ms=7.5, ecolor='red',
            elinewidth=2.8, zorder=7)
ax.set_xlim(1, 5)
ax.set_ylim(-0.09, 5)
ax.set_xticks([])
ax.set_yticks([0, 1, 2, 3, 4, 5])
ax.set_yticklabels(["0", "1", "2", "3", "4", "5"], fontsize=18)
ax.tick_params(length=5, width=1.2, pad=3)
style(ax)
handles, labels = ax.get_legend_handles_labels()
handles = [Patch(facecolor='#c3d0f3', edgecolor='none')] + handles
labels = ["petitCODE - Cloud free"] + labels
leg = ax.legend(handles, labels, loc='upper right', bbox_to_anchor=(0.987, 0.973), borderaxespad=0, fontsize=19.1,
                handlelength=2.3, handletextpad=0.75, labelspacing=0.5)
fig.text(76 / W, 1 - 1286 / H, "1e\u221216", ha='left', va='baseline', fontsize=20)
fig.text(25 / W, 1 - 1536 / H, "λF$_{λ}$(Wm$^{-2}$)", rotation=90, ha='center', va='center', fontsize=20)

# residuals
ax = pix_axes(76, 1795, 1181.5, 1903)
ax.axhline(0, color='k', lw=2.6, zorder=2)
ax.axhline(3, color='#888888', ls=':', lw=1.1, zorder=1)
ax.axhline(-3, color='#888888', ls=':', lw=1.1, zorder=1)
ax.plot(pale15_wl, pale15, 'o', ms=8, mfc='magenta', mec='k', mew=1.0, alpha=0.16, zorder=3)
ax.plot(res15_wl, res15, 'o', ms=7.5, mfc='magenta', mec='k', mew=1.6, zorder=4)
for wl, vals in zip(res14_wl, res14):
    ax.plot([wl] * len(vals), vals, 'o', ms=8, mfc='limegreen', mec='k', mew=1.0, alpha=0.35, zorder=5)
for wl, vals in zip(res_work_wl, res_work):
    ax.plot([wl] * len(vals), vals, 'o', ms=8, mfc='orange', mec='red', mew=1.2, alpha=0.38, zorder=6)
ax.set_xlim(1, 5)
ax.set_ylim(-5, 5)
ax.set_yticks([-5, 0, 5])
ax.set_yticklabels(["\u22125", "0", "5"], fontsize=18)
ax.set_xticks([1, 1.5, 2, 2.5, 3, 3.5, 4, 4.5, 5])
ax.set_xticklabels(["1.0", "1.5", "2.0", "2.5", "3.0", "3.5", "4.0", "4.5", "5.0"], fontsize=18)
ax.tick_params(length=5, width=1.2, pad=3)
style(ax)
fig.text(17 / W, 1 - 1852 / H, "Residuals (1σ)", rotation=90, ha='center', va='center', fontsize=14.5)
fig.text(627 / W, 1 - 1956 / H, "Wavelength (μm)", ha='center', va='center', fontsize=19.2)

fig.savefig("out.png", dpi=100)
